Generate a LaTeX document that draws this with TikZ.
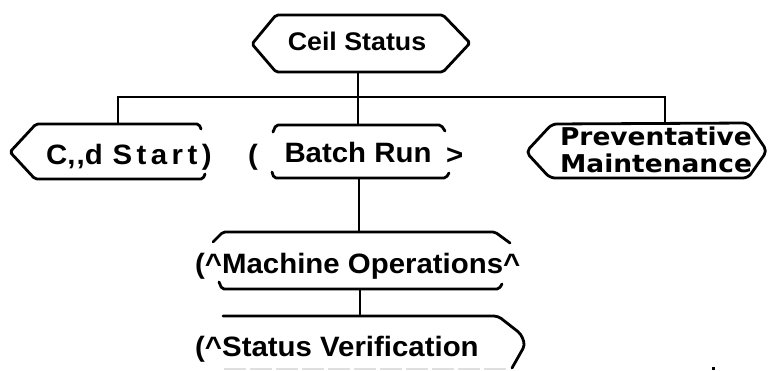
\documentclass[tikz,border=0pt]{standalone}
\usepackage{fontspec}
\newfontfamily\lsb{Liberation Sans}[FakeStretch=1.05]
\newfontfamily\lsbsp{Liberation Sans}[FakeStretch=1.05,LetterSpace=16]
\newfontfamily\dvb{DejaVu Sans}[FakeStretch=1.08]
\begin{document}
\begin{tikzpicture}[x=1pt,y=-1pt]
\tikzset{
  lbl/.style={inner sep=0pt, anchor=base, font=\lsb\bfseries\fontsize{28}{32}\selectfont},
  pmlbl/.style={inner sep=0pt, anchor=base, font=\dvb\bfseries\fontsize{24.5}{27}\selectfont},
  boxline/.style={line width=2.8pt, line join=round, line cap=round},
  conn/.style={line width=2.8pt}
}
\useasboundingbox (0,0) rectangle (768,370);
% shapes
\draw[boxline, rounded corners=2pt] (276,15) -- (443,15) -- (470,43) -- (443,72) -- (276,72) -- (252,44) -- cycle;
\draw[boxline, rounded corners=2pt] (201,129) -- (199,124) -- (36,124) -- (10,152) -- (35,179) -- (203,179) -- (205,174);
\draw[boxline, rounded corners=2pt] (273,132) -- (276,125) -- (441,125) -- (445,131);
\draw[boxline, rounded corners=2pt] (272,172) -- (274,178) -- (446,178) -- (449,173);
\draw[boxline, rounded corners=5pt] (552,124) -- (748,123) -- (767,151) -- (748,178) -- (550,178) -- (526,152) -- cycle;
\draw[boxline, rounded corners=2pt] (213,242) -- (223,232) -- (495,232) -- (510,243);
\draw[boxline, rounded corners=2pt] (219,282) -- (222,289) -- (499,289) -- (502,284);
\draw[boxline, rounded corners=4pt] (223,316) -- (498,316) -- (521,334) -- (525,345) -- (512,368);
\draw[gray!25, line width=1.6pt, dash pattern=on 22pt off 4pt] (224,369) -- (506,369);
\fill (711.5,366.5) rectangle (714.5,369.5);
% connection points
\coordinate (csb) at (358,72);
\coordinate (jn) at (358,97);
\coordinate (jl) at (118,97);
\coordinate (jr) at (665,97);
\coordinate (cdt) at (118,124);
\coordinate (brt) at (358,125);
\coordinate (pmt) at (665,123);
\coordinate (brb) at (359,178);
\coordinate (mot) at (359,232);
\coordinate (mob) at (360,289);
\coordinate (svt) at (360,316);
\draw[conn] (csb) -- (jn);
\draw[conn] (jl) -- (jr);
\draw[conn, line cap=rect] (jl) -- (cdt);
\draw[conn] (jn) -- (brt);
\draw[conn, line cap=rect] (jr) -- (pmt);
\draw[conn] (brb) -- (mot);
\draw[conn] (mob) -- (svt);
% labels
\node[lbl, font=\lsb\bfseries\fontsize{25.5}{29}\selectfont] (cs) at (357,50) {Ceil Status};
\node[lbl, anchor=base west] (cd) at (46,164) {C,{}\kern1pt,{}d\hspace{0.35em}{\lsbsp\bfseries Start)}};
\node[lbl, anchor=base west] (lp) at (248,164) {(};
\node[lbl] (br) at (358,162) {Batch Run};
\node[lbl, anchor=base west] (gt) at (446,164) {>};
\node[pmlbl] (pm1) at (656,145) {Preventative};
\node[pmlbl] (pm2) at (656,172) {Maintenance};
\node[lbl, anchor=base west] (mo) at (195,273) {(\textasciicircum Machine Operations\textasciicircum};
\node[lbl, anchor=base west] (sv) at (195,356) {(\textasciicircum Status Verification};
\end{tikzpicture}
\end{document}
